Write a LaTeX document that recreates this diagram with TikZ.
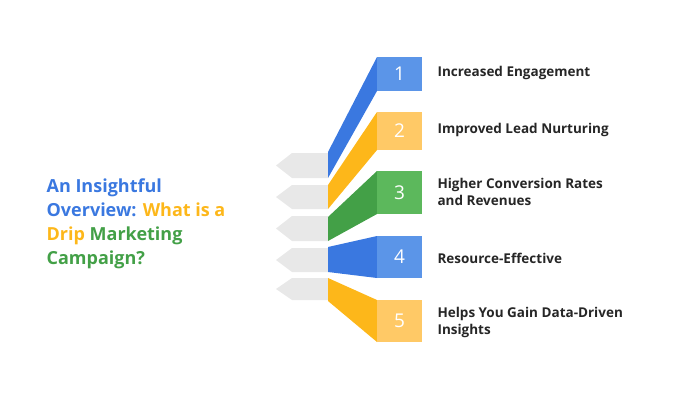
\documentclass[tikz,border=0pt]{standalone}
\usepackage{fontspec}
\setmainfont{Open Sans}
\usepackage{tikz}
\usetikzlibrary{positioning}
\definecolor{bluedk}{HTML}{3A78E0}
\definecolor{bluelt}{HTML}{5B95E8}
\definecolor{orgdk}{HTML}{FDB71A}
\definecolor{orglt}{HTML}{FFC966}
\definecolor{grndk}{HTML}{43A047}
\definecolor{grnlt}{HTML}{5CB85C}
\definecolor{graytab}{HTML}{E8E8E8}
\tikzset{
	item/.style={anchor=west,align=left,font=\fontsize{13.5}{17}\selectfont\bfseries,text=black!85},
	num/.style={text=white,font=\fontsize{19}{20}\selectfont},
}
\newcommand{\graytab}[2]{% top, bottom
	\fill[graytab] (276,{(#1+#2)/2}) -- (292,#1) -- (328,#1) -- (328,#2) -- (292,#2) -- cycle;}
\newcommand{\panel}[7]{% left top, left bottom, box top, box bottom, dark, light, number
	\fill[#5] (328,#1) -- (377,#3) -- (377,#4) -- (328,#2) -- cycle;
	\fill[#6] (377,#3) rectangle (422,#4);
	\node[num] (n#7) at (399.5,{(#3+#4)/2}) {#7};}
\begin{document}
\begin{tikzpicture}[x=1pt,y=-1pt]
	\useasboundingbox (0,0) rectangle (698,400);
	%
	\graytab{153}{178}
	\graytab{185}{209}
	\graytab{216}{241}
	\graytab{248}{272}
	\graytab{278}{300}
	%
	\panel{152}{178}{57}{91}{bluedk}{bluelt}{1}
	\panel{185}{209}{112}{150}{orgdk}{orglt}{2}
	\panel{217}{241}{171}{214}{grndk}{grnlt}{3}
	\panel{247}{272}{236}{278}{bluedk}{bluelt}{4}
	\panel{278}{301}{300}{342}{orgdk}{orglt}{5}
	%
	\node[item] (t1) at (434,73) {Increased Engagement};
	\node[item] (t2) at (434,130) {Improved Lead Nurturing};
	\node[item] (t3) at (434,192) {Higher Conversion Rates\\and Revenues};
	\node[item] (t4) at (434,258) {Resource-Effective};
	\node[item] (t5) at (434,322) {Helps You Gain Data-Driven\\Insights};
	%
	\node[align=left,font=\fontsize{18}{24}\selectfont\bfseries] (title) at (136,224)
		{\textcolor{bluedk}{An Insightful}\\
		 \textcolor{bluedk}{Overview:} \textcolor{orgdk}{What is a}\\
		 \textcolor{orgdk}{Drip} \textcolor{grndk}{Marketing}\\
		 \textcolor{grndk}{Campaign?}};
\end{tikzpicture}
\end{document}
